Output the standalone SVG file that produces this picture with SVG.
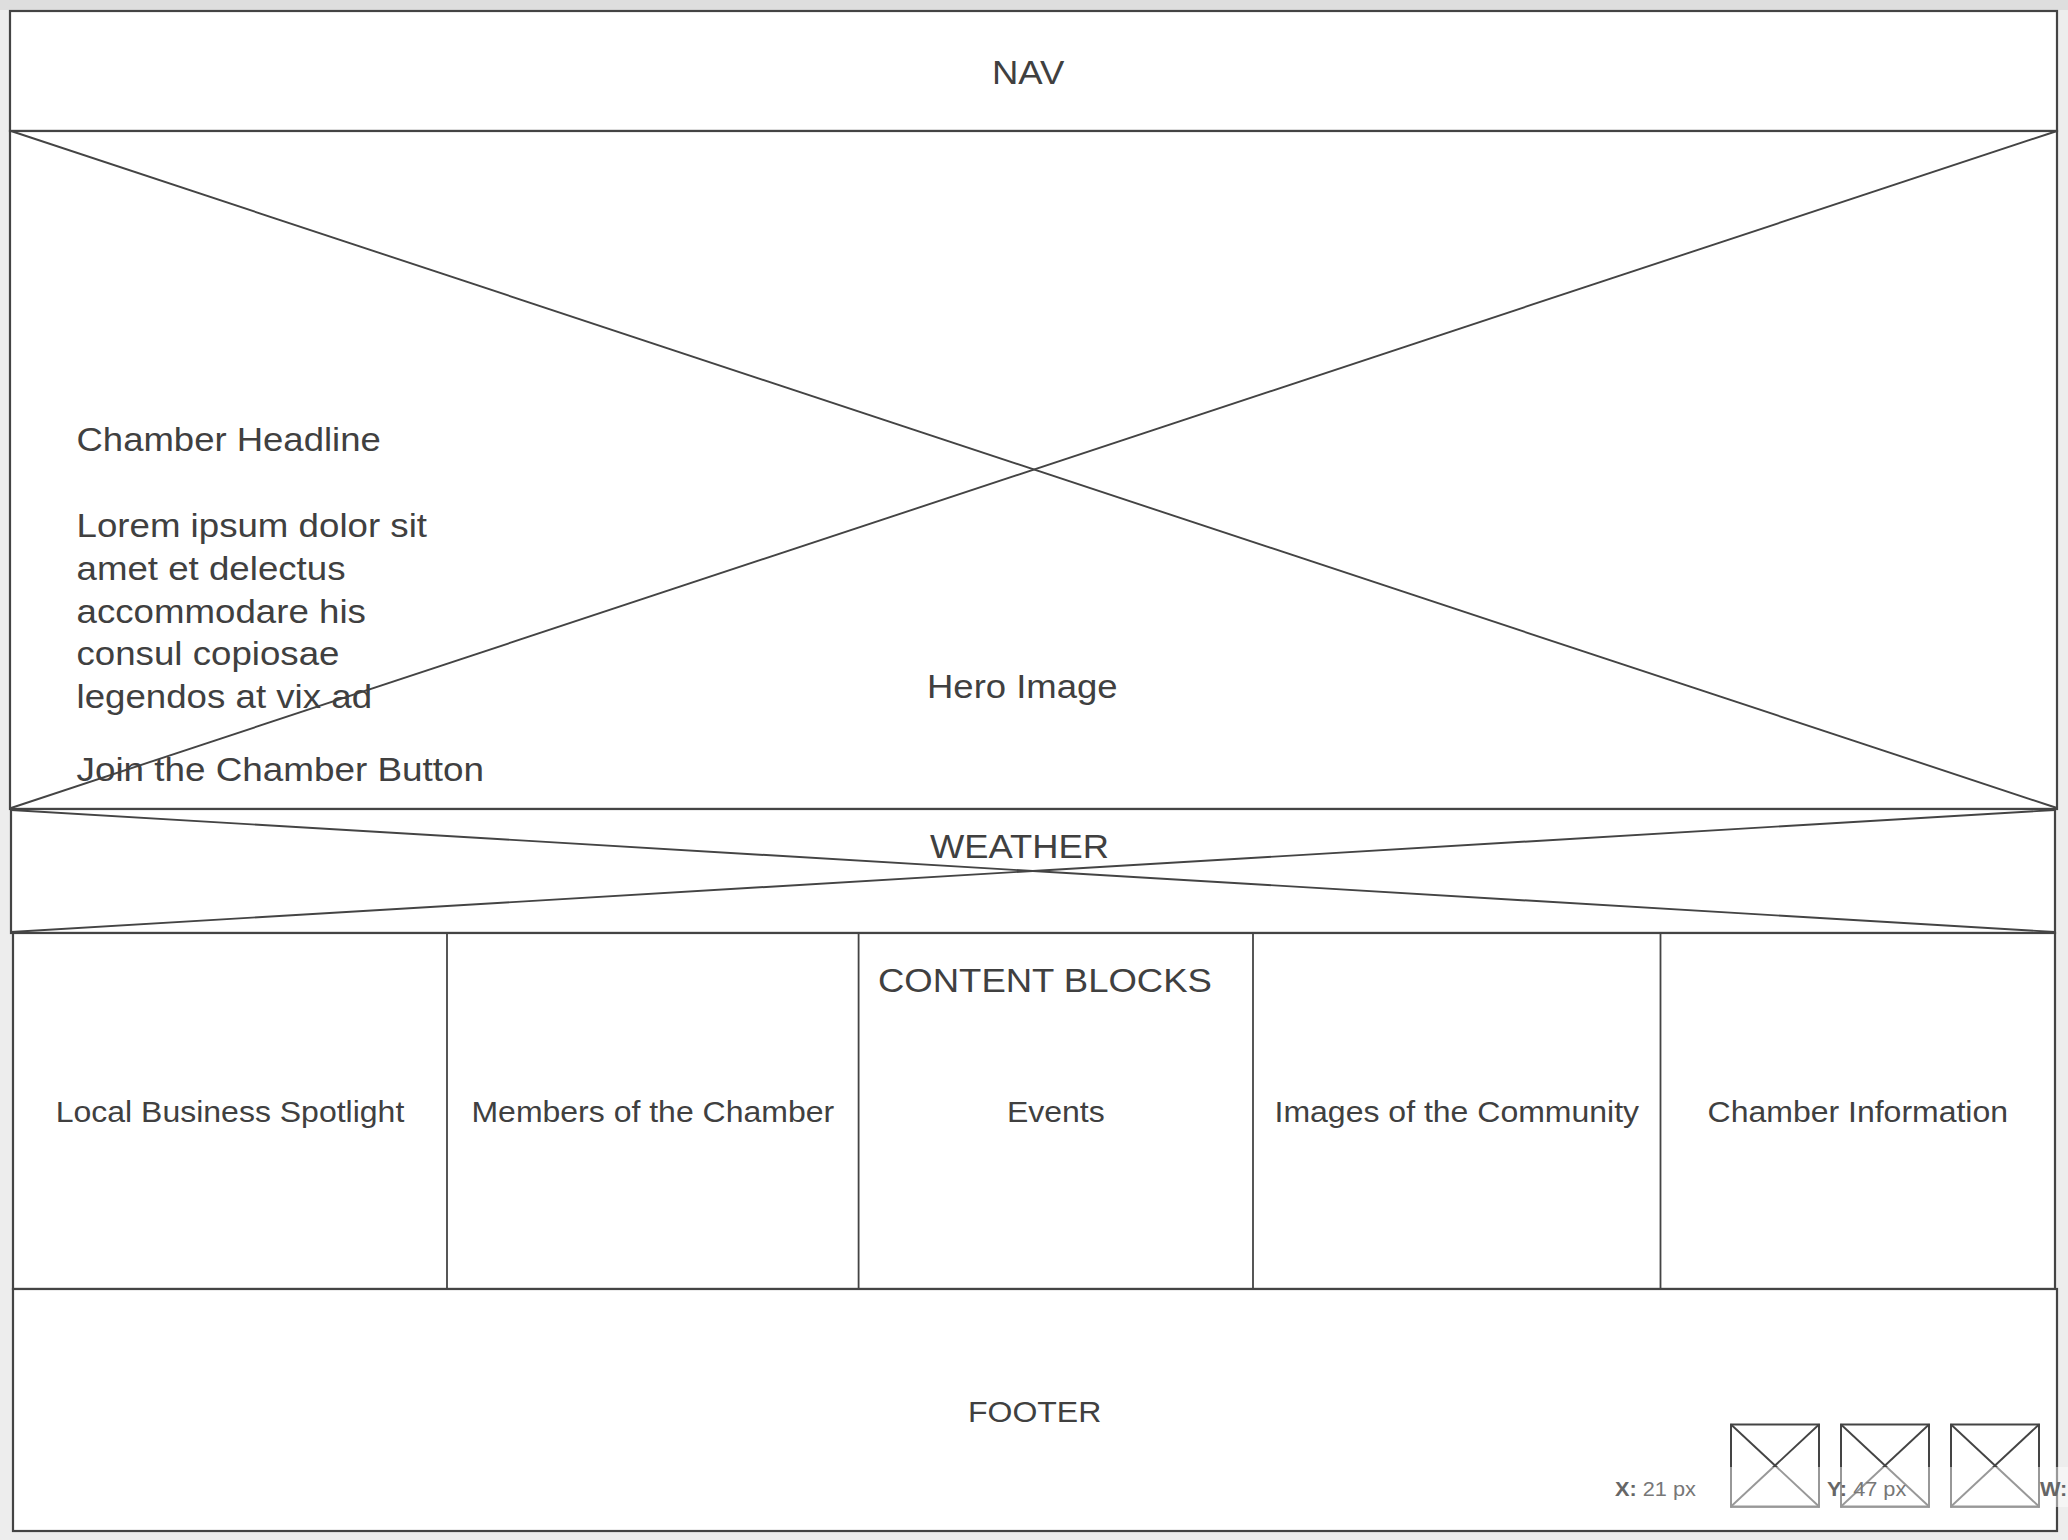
<svg xmlns="http://www.w3.org/2000/svg" width="2068" height="1540" viewBox="0 0 2068 1540">
<defs>
<style>
.box{fill:#ffffff;stroke:#444444;stroke-width:2.2}
.ln{stroke:#444444;stroke-width:1.9;fill:none}
.div{stroke:#444444;stroke-width:1.8}
.big{font-family:"Liberation Sans",Arial,sans-serif;font-size:33.5px;fill:#404040}
.mid{font-family:"Liberation Sans",Arial,sans-serif;font-size:29.5px;fill:#404040}
.tip{font-family:"Liberation Sans",Arial,sans-serif;font-size:20.5px;fill:#777777}
.tipb{font-weight:bold;fill:#666666}
.ico{fill:#ffffff;stroke:#444444;stroke-width:2}
</style>
</defs>
<rect x="0" y="0" width="2068" height="1540" fill="#ededed"/>
<rect x="0" y="0" width="2068" height="10" fill="#dedede"/>

<g id="nav">
<rect class="box" x="10" y="11" width="2047" height="120"/>
<text class="big" transform="translate(992,84) scale(1.09,1)">NAV</text>
</g>

<g id="hero">
<rect class="box" x="10" y="131" width="2047" height="678"/>
<line class="ln" x1="11" y1="131" x2="2057" y2="808"/>
<line class="ln" x1="11" y1="808" x2="2057" y2="131"/>
<text class="big" transform="translate(927,698) scale(1.09,1)">Hero Image</text>
<text class="big" transform="translate(76.5,450.5) scale(1.09,1)">Chamber Headline</text>
<text class="big" transform="translate(76.5,537) scale(1.095,1)">Lorem ipsum dolor sit</text>
<text class="big" transform="translate(76.5,579.8) scale(1.095,1)">amet et delectus</text>
<text class="big" transform="translate(76.5,622.6) scale(1.095,1)">accommodare his</text>
<text class="big" transform="translate(76.5,665.4) scale(1.095,1)">consul copiosae</text>
<text class="big" transform="translate(76.5,708.2) scale(1.095,1)">legendos at vix ad</text>
<text class="big" transform="translate(76.5,780.5) scale(1.1,1)">Join the Chamber Button</text>
</g>

<g id="weather">
<rect class="box" x="11" y="809" width="2044" height="124"/>
<line class="ln" x1="11" y1="810" x2="2055" y2="932"/>
<line class="ln" x1="11" y1="932" x2="2055" y2="810"/>
<text class="big" transform="translate(930,857.5) scale(1.085,1)">WEATHER</text>
</g>

<g id="content-blocks">
<rect class="box" x="13" y="933" width="2042" height="356"/>
<line class="div" x1="447" y1="933" x2="447" y2="1289"/>
<line class="div" x1="858.6" y1="933" x2="858.6" y2="1289"/>
<line class="div" x1="1253" y1="933" x2="1253" y2="1289"/>
<line class="div" x1="1660.5" y1="933" x2="1660.5" y2="1289"/>
<text class="big" transform="translate(878,992) scale(1.09,1)">CONTENT BLOCKS</text>
</g>

<g id="block-local-business">
<text class="mid" text-anchor="middle" transform="translate(230,1122) scale(1.085,1)">Local Business Spotlight</text>
</g>
<g id="block-members">
<text class="mid" text-anchor="middle" transform="translate(652.8,1122) scale(1.085,1)">Members of the Chamber</text>
</g>
<g id="block-events">
<text class="mid" text-anchor="middle" transform="translate(1055.8,1122) scale(1.085,1)">Events</text>
</g>
<g id="block-images">
<text class="mid" text-anchor="middle" transform="translate(1456.8,1122) scale(1.085,1)">Images of the Community</text>
</g>
<g id="block-info">
<text class="mid" text-anchor="middle" transform="translate(1857.8,1122) scale(1.085,1)">Chamber Information</text>
</g>

<g id="footer">
<rect class="box" x="13" y="1289" width="2044" height="242"/>
<text class="mid" transform="translate(968,1422) scale(1.085,1)">FOOTER</text>
</g>

<g id="footer-icon-1">
<rect class="ico" x="1731" y="1424.5" width="88" height="82"/>
<line class="ln" x1="1731" y1="1424.5" x2="1819" y2="1506.5"/>
<line class="ln" x1="1731" y1="1506.5" x2="1819" y2="1424.5"/>
</g>
<g id="footer-icon-2">
<rect class="ico" x="1841" y="1424.5" width="88" height="82"/>
<line class="ln" x1="1841" y1="1424.5" x2="1929" y2="1506.5"/>
<line class="ln" x1="1841" y1="1506.5" x2="1929" y2="1424.5"/>
</g>
<g id="footer-icon-3">
<rect class="ico" x="1951" y="1424.5" width="88" height="82"/>
<line class="ln" x1="1951" y1="1424.5" x2="2039" y2="1506.5"/>
<line class="ln" x1="1951" y1="1506.5" x2="2039" y2="1424.5"/>
</g>

<g id="position-tooltip">
<rect x="1600" y="1467" width="468" height="40" fill="#ffffff" fill-opacity="0.45"/>
<text class="tip" transform="translate(1615,1495.5) scale(1.06,1)"><tspan class="tipb">X:</tspan> 21 px</text>
<text class="tip" transform="translate(1827,1495.5) scale(1.06,1)"><tspan class="tipb">Y:</tspan> 47 px</text>
<text class="tip" transform="translate(2040,1495.5) scale(1.06,1)"><tspan class="tipb">W:</tspan></text>
</g>
</svg>
